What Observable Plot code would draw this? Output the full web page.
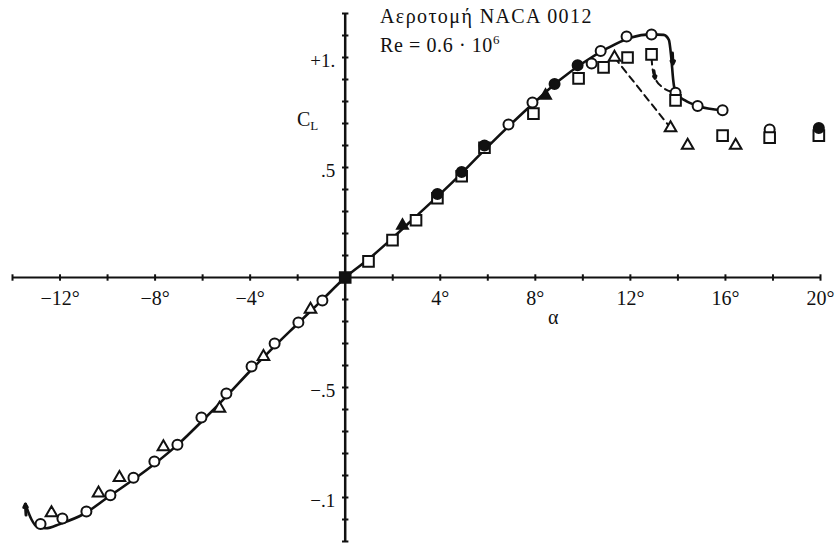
<!DOCTYPE html>
<html><head><meta charset="utf-8">
<script src="https://cdn.jsdelivr.net/npm/d3@7"></script>
<script src="https://cdn.jsdelivr.net/npm/@observablehq/plot@0.6"></script>
<style>
body{margin:0;background:#fff;}
#wrap{position:relative;width:836px;height:543px;font-family:'Liberation Serif','Times New Roman',serif;color:#111;}
#wrap svg text{font-family:'Liberation Serif','Times New Roman',serif;}
.lbl{position:absolute;white-space:nowrap;line-height:1;}
</style></head><body><div id="wrap"></div>
<script>
// ---- data (α in degrees, C_L) ----
const circAlpha = [-12.82,-11.90,-10.89,-9.88,-8.91,-8.03,-7.06,-6.05,-5.0,-3.94,-2.97,-1.97,-0.96,6.87,7.88,10.37,10.75,11.84,12.89,13.9,14.83,15.88,17.86];
const circCL    = [-1.12,-1.095,-1.064,-0.99,-0.91,-0.836,-0.76,-0.636,-0.527,-0.405,-0.30,-0.204,-0.105,0.695,0.795,0.973,1.03,1.095,1.105,0.84,0.78,0.76,0.673];
const circFillAlpha = [3.88,4.9,5.86,8.81,9.78,19.93];
const circFillCL    = [0.38,0.48,0.60,0.88,0.965,0.68];
const sqAlpha = [0.98,1.99,2.98,3.88,4.9,5.86,7.92,9.82,10.87,11.88,12.89,13.9,15.88,17.86,19.93];
const sqCL    = [0.073,0.17,0.26,0.36,0.46,0.59,0.745,0.905,0.955,1.0,1.014,0.805,0.645,0.636,0.645];
const sqFillAlpha = [0];
const sqFillCL    = [0];
const triAlpha = [-12.36,-10.38,-9.50,-7.65,-5.29,-3.44,-1.46,11.33,13.69,14.41,16.43];
const triCL    = [-1.07,-0.98,-0.91,-0.77,-0.595,-0.36,-0.145,1.0,0.68,0.60,0.60];
const triFillAlpha = [2.41,8.43];
const triFillCL    = [0.236,0.827];
// solid curve
const curveAlpha = [-13.46,-13.2,-12.95,-12.6,-12.0,-11.0,-10.0,-9.0,-8.0,-7.0,-6.0,-5.0,-4.0,-3.0,-2.0,-1.0,0,1,2,3,4,5,6,7,8,9,10,11,12,12.89,13.4,13.62,13.72,13.8,13.9,14.3,14.83,15.88];
const curveCL    = [-1.03,-1.10,-1.135,-1.14,-1.12,-1.075,-1.0,-0.925,-0.845,-0.755,-0.65,-0.54,-0.425,-0.315,-0.21,-0.105,0,0.085,0.18,0.28,0.38,0.485,0.595,0.70,0.80,0.895,0.975,1.04,1.09,1.105,1.103,1.08,1.0,0.90,0.84,0.805,0.78,0.76];
// dashed branches
const dash1Alpha = [11.33,13.69];
const dash1CL    = [1.0,0.68];
const dash2Alpha = [12.89,12.93,13.05,13.35,13.9];
const dash2CL    = [1.0,0.95,0.905,0.865,0.84];
// arrowheads (from -> to)
const arrowX1 = [-13.43,13.77,12.99];
const arrowY1 = [-1.08,1.02,0.94];
const arrowX2 = [-13.46,13.79,13.04];
const arrowY2 = [-1.03,0.97,0.905];
// ticks and labels
const xTickVals = d3.range(-14, 20.01, 2);
const yTickVals = d3.range(-12, 12.1, 1).map(v => v / 10);
const xLabelVals = [-12,-8,-4,4,8,12,16,20];
const xLabelTexts = ["\u221212°","\u22128°","\u22124°","4°","8°","12°","16°","20°"];
const yLabelVals = [1,0.5,-0.5,-1];
const yLabelTexts = ["+1.",".5","\u2212.5","\u2212.1"];

const pts = (a, c) => a.map((x, i) => ({x, y: c[i]}));
const vTick = {draw(ctx, size){ const r = Math.sqrt(size / Math.PI); ctx.moveTo(0, -r); ctx.lineTo(0, r); }};
const hTick = {draw(ctx, size){ const r = Math.sqrt(size / Math.PI); ctx.moveTo(-r, 0); ctx.lineTo(r, 0); }};
const ink = "#111";
const serif = "'Liberation Serif', 'Times New Roman', serif";

const chart = Plot.plot({
  width: 836, height: 543,
  marginLeft: 12, marginRight: 16, marginTop: 13, marginBottom: 2,
  x: {domain: [-14, 20], axis: null},
  y: {domain: [-1.2, 1.2], axis: null},
  style: {background: "transparent", fontFamily: serif, color: ink},
  marks: [
    Plot.ruleY([0], {stroke: ink, strokeWidth: 2}),
    Plot.ruleX([0], {stroke: ink, strokeWidth: 2.5}),
    Plot.dot(xTickVals, {x: d => d, y: 0, symbol: vTick, r: 3.2, stroke: ink, strokeWidth: 2}),
    Plot.dot(yTickVals, {x: 0, y: d => d, symbol: hTick, r: 3.2, stroke: ink, strokeWidth: 2}),
    Plot.text(xLabelVals, {x: d => d, y: 0, text: (d, i) => xLabelTexts[i], dy: 21, fontSize: 20, fill: ink, fontFamily: serif}),
    Plot.text(yLabelVals, {x: 0, y: d => d, text: (d, i) => yLabelTexts[i], dx: -10, dy: 3, textAnchor: "end", fontSize: 19, fill: ink, fontFamily: serif}),
    Plot.line(pts(curveAlpha, curveCL), {x: "x", y: "y", curve: "monotone-x", stroke: ink, strokeWidth: 2.6}),
    Plot.line(pts(dash1Alpha, dash1CL), {x: "x", y: "y", stroke: ink, strokeWidth: 2, strokeDasharray: "7,5"}),
    Plot.line(pts(dash2Alpha, dash2CL), {x: "x", y: "y", curve: "monotone-x", stroke: ink, strokeWidth: 2, strokeDasharray: "7,5"}),
    Plot.arrow(arrowX1.map((x, i) => ({x1: x, y1: arrowY1[i], x2: arrowX2[i], y2: arrowY2[i]})), {x1: "x1", y1: "y1", x2: "x2", y2: "y2", stroke: ink, strokeWidth: 3, headLength: 10, headAngle: 55}),
    Plot.dot(pts(circAlpha, circCL), {x: "x", y: "y", symbol: "circle", r: 5, stroke: ink, strokeWidth: 2, fill: "white"}),
    Plot.dot(pts(sqAlpha, sqCL), {x: "x", y: "y", symbol: "square", r: 6, stroke: ink, strokeWidth: 2, fill: "white"}),
    Plot.dot(pts(sqFillAlpha, sqFillCL), {x: "x", y: "y", symbol: "square", r: 6, stroke: ink, strokeWidth: 2, fill: ink}),
    Plot.dot(pts(circFillAlpha, circFillCL), {x: "x", y: "y", symbol: "circle", r: 5, stroke: ink, strokeWidth: 2, fill: ink}),
    Plot.dot(pts(triAlpha, triCL), {x: "x", y: "y", symbol: "triangle", r: 4.3, stroke: ink, strokeWidth: 2, fill: "white"}),
    Plot.dot(pts(triFillAlpha, triFillCL), {x: "x", y: "y", symbol: "triangle", r: 4, stroke: ink, strokeWidth: 2, fill: ink})
  ]
});
const wrap = document.getElementById("wrap");
wrap.appendChild(chart);
const addLabel = (html, left, top, size, extra) => {
  const d = document.createElement("div");
  d.className = "lbl";
  d.innerHTML = html;
  d.style.left = left + "px"; d.style.top = top + "px"; d.style.fontSize = size + "px";
  if (extra) Object.assign(d.style, extra);
  wrap.appendChild(d);
};
addLabel("Αεροτομή NACA 0012", 380, 6, 20, {letterSpacing: "1.4px"});
addLabel("Re = 0.6 · 10<sup style='font-size:13px;vertical-align:8px'>6</sup>", 380, 33, 20, {letterSpacing: "0.6px"});
addLabel("C<sub style='font-size:13px;vertical-align:-4px'>L</sub>", 297, 109, 20);
addLabel("α", 548, 307, 20);
</script>
</body></html>
